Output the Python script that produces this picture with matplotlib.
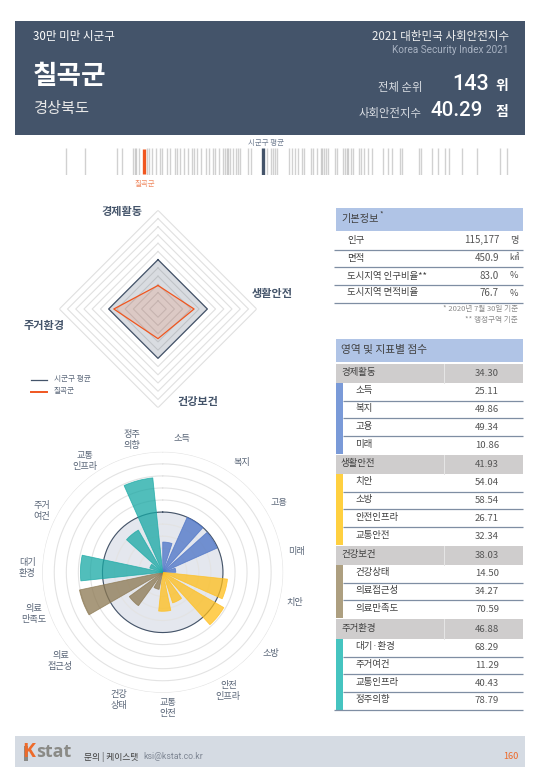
import numpy as np
import matplotlib
matplotlib.use("Agg")
import matplotlib.pyplot as plt
from matplotlib.patches import Rectangle

plt.rcParams['font.family'] = ['Noto Sans CJK KR', 'DejaVu Sans']

# ---------- data ----------
district = "칠곡군"
province = "경상북도"
group = "30만 미만 시군구"
rank = 143
index_score = 40.29
avg_score = 50.0

strip_scores = [33.91,35.48,38.07,38.50,39.35,39.54,39.64,39.86,40.51,40.70,40.92,41.22,41.55,41.76,
                42.15,42.39,42.80,42.94,43.23,43.56,43.88,44.16,44.37,44.57,44.89,45.30,45.60,45.87,
                46.04,46.36,46.74,46.88,47.01,47.15,47.28,47.50,47.75,47.96,48.10,48.78,48.97,50.28,
                50.60,50.77,50.95,51.14,52.12,52.32,52.59,52.85,53.18,53.34,53.87,54.03,54.40,54.68,
                54.81,54.95,55.11,55.30,55.85,55.99,56.52,56.69,56.80,56.88,57.13,57.34,57.81,57.97,
                58.21,58.51,58.84,59.79,60.15,60.52,61.15,61.29,62.68,62.89,63.74,64.28,64.82,65.12,
                66.23,67.41,69.33,69.87]

domains = ["경제활동", "생활안전", "건강보건", "주거환경"]
domain_scores = [34.30, 41.93, 38.03, 46.88]
domain_avg = [50, 50, 50, 50]

indicator_scores = [25.11,49.86,49.34,10.86,54.04,58.54,26.71,32.34,14.50,34.27,70.59,68.29,11.29,40.43,78.79]
indicator_domain = [0,0,0,0,1,1,1,1,2,2,2,3,3,3,3]
rose_labels = ["소득","복지","고용","미래","치안","소방","안전\n인프라","교통\n안전","건강\n상태",
               "의료\n접근성","의료\n만족도","대기\n환경","주거\n여건","교통\n인프라","정주\n의향"]
rose_label_angles = [8,36,59,81,103,127,151,178,199,229,252,272,297,325,347]

info_labels = ["인구","면적","도시지역 인구비율**","도시지역 면적비율"]
info_values = ["115,177","450.9","83.0","76.7"]
info_units = ["명","㎢","%","%"]

# ---------- colours ----------
NAVY = "#44546a"
ORANGE = "#f0561f"
TXT = "#404040"
HEAD = "#b0c4e6"
GREY = "#cfcdcd"
LINE = "#7f8ea3"
strip_bar = ["#7a9ad8", "#ffd040", "#ad9f80", "#45c4c0"]
rose_col = ["#4a72c6", "#ffbe1a", "#8b7750", "#17a8a4"]

W, H = 540, 780
fig = plt.figure(figsize=(W/100, H/100), dpi=100, facecolor="white")
bg = fig.add_axes([0, 0, 1, 1])
bg.set_xlim(0, W); bg.set_ylim(H, 0); bg.axis("off")

def T(x, y, s, size=6.5, color=TXT, ha="left", weight="normal", va="center", **kw):
    return bg.text(x, y, s, fontsize=size, color=color, ha=ha, va=va, fontweight=weight, **kw)

def px_axes(x0, y0, x1, y1, **kw):
    return fig.add_axes([x0/W, 1-y1/H, (x1-x0)/W, (y1-y0)/H], **kw)

# ---------- header ----------
bg.add_patch(Rectangle((14.5, 21), 510.5, 114, fc=NAVY, ec="none"))
T(33, 36.5, group, 8.3, "white", weight="medium")
T(33, 77, district, 19.2, "white", weight="bold")
T(33, 108, province, 11, "#e8e8e8")
T(509, 36.5, "2021 대한민국 사회안전지수", 8.3, "#f0f0f0", ha="right")
T(509, 50, "Korea Security Index 2021", 7.2, "#a8b2c2", ha="right", family=["Roboto"])
T(422, 87, "전체 순위", 8.2, "#d8dce2", ha="right")
T(489, 84, f"{rank}", 15.5, "white", ha="right", weight="medium", family=["Roboto"])
T(508.5, 86, "위", 10, "white", ha="right", weight="bold")
T(422, 113, "사회안전지수", 8.2, "#d8dce2", ha="right")
T(483, 111, f"{index_score:.2f}", 14.8, "white", ha="right", weight="medium", family=["Roboto"])
T(508.5, 112, "점", 10, "white", ha="right", weight="bold")

# ---------- strip of all districts ----------
s0, s1 = 60.0, 515.0
slope = (263.3-144.3)/(avg_score-index_score)
st = px_axes(s0, 148, s1, 175)
st.set_xlim(avg_score+(s0-263.3)/slope, avg_score+(s1-263.3)/slope)
st.set_ylim(0, 1); st.axis("off")
st.vlines(strip_scores, 0, 1, color="#808080", alpha=0.36, lw=1.0)
st.vlines([avg_score], 0, 1, color=NAVY, lw=2.4)
st.vlines([index_score], 0.03, 0.97, color=ORANGE, lw=2.4)
T(265.5, 142.5, "시군구 평균", 5.4, "#6f7c90", ha="center")
T(145, 184, district, 5.4, "#f08a62", ha="center")

# ---------- radar ----------
cx, cy, R = 158.0, 309.0, 98.7
ra = px_axes(cx-R, cy-R, cx+R, cy+R, projection="polar")
ra.set_theta_zero_location("N"); ra.set_theta_direction(-1)
ra.set_ylim(20, 80); ra.axis("off")
th4 = np.deg2rad([0, 90, 180, 270, 360])
for v in range(25, 81, 5):
    ra.plot(th4, [v]*5, color="#e0e0e0", lw=0.8, zorder=1)
ra.fill(th4, domain_avg+domain_avg[:1], color=NAVY, alpha=0.2, lw=0, zorder=2)
ra.plot(th4, domain_avg+domain_avg[:1], color=NAVY, lw=0.9, zorder=3)
ra.fill(th4, domain_scores+domain_scores[:1], color=ORANGE, alpha=0.14, lw=0, zorder=4)
ra.plot(th4, domain_scores+domain_scores[:1], color=ORANGE, lw=0.9, zorder=5)
for lab, (x, y) in zip(domains, [(121.7, 211), (272.7, 294), (197.7, 402), (44, 326)]):
    T(x, y, lab, 8.0, NAVY, ha="center", weight="bold")
bg.plot([31, 47], [379.5, 379.5], color=NAVY, lw=0.9)
bg.plot([31, 47], [391.5, 391.5], color=ORANGE, lw=1.4)
T(54, 379.5, "시군구 평균", 5.5, "#5f6b7d")
T(54, 391.5, district, 5.5, "#5f6b7d")

# ---------- rose ----------
cx2, cy2, R2 = 162.7, 572.3, 120.5
ro = px_axes(cx2-R2, cy2-R2, cx2+R2, cy2+R2, projection="polar")
ro.set_theta_zero_location("N"); ro.set_theta_direction(-1)
ro.set_ylim(0, 100); ro.axis("off")
ro.patch.set_alpha(0)
t = np.linspace(0, 2*np.pi, 361)
ro.fill(t, np.full_like(t, avg_score), color="#e4e7ee", lw=0, zorder=1)
for v in range(10, 101, 10):
    ro.plot(t, np.full_like(t, v), color="#e3e3e3", lw=0.8, zorder=2)
ro.plot(t, np.full_like(t, avg_score), color=NAVY, lw=0.8, zorder=3)
starts = np.deg2rad(24.0*np.arange(len(indicator_scores)))
for a, v, d in zip(starts, indicator_scores, indicator_domain):
    ro.bar(a, v, width=np.deg2rad(18), align="edge", color=rose_col[d], alpha=0.75,
           edgecolor=rose_col[d], lw=0.6, zorder=4)
lab_ang = np.deg2rad(rose_label_angles)
for a, lab in zip(lab_ang, rose_labels):
    x = cx2 + 135.5*np.sin(a)
    y = cy2 - 135.5*np.cos(a)
    T(x, y, lab, 6.6, "#5a6678", ha="center", linespacing=1.3)

# ---------- info table ----------
bg.add_patch(Rectangle((336, 208), 187, 23, fc=HEAD, ec="none"))
T(341, 219, "기본정보", 7.3, TXT)
T(379, 215, "*", 5.5, TXT)
info_y = [240, 258, 276, 293]
info_line = [249.5, 267, 284.5, 302.5]
for lab, val, unit, y, ly in zip(info_labels, info_values, info_units, info_y, info_line):
    T(347, y, lab, 6.8, TXT)
    T(499, y, val, 7.0, "#555555", ha="right")
    T(514, y, unit, 6.6, "#555555", ha="center")
    bg.plot([334, 523], [ly, ly], color=LINE, lw=0.9, solid_capstyle="butt")
T(518, 309, "* 2020년 7월 30일 기준", 5.5, "#8c8c8c", ha="right")
T(518, 320, "** 행정구역 기준", 5.5, "#8c8c8c", ha="right")

# ---------- score table ----------
bg.add_patch(Rectangle((336, 339), 187, 23, fc=HEAD, ec="none"))
T(341, 350, "영역 및 지표별 점수", 7.7, TXT)
grey_rows = [(363.5, 383), (454.7, 474), (545.7, 565), (619, 639)]
row_lines = [[400.7, 418.3, 436, 454], [491.7, 509.3, 527.3, 545],
             [582.7, 600.3, 618], [656.7, 674, 692, 709.7]]
names = ["소득","복지","고용","미래","치안","소방","안전인프라","교통안전",
         "건강상태","의료접근성","의료만족도","대기·환경","주거여건","교통인프라","정주의향"]
k = 0
for d, (dom, score) in enumerate(zip(domains, domain_scores)):
    y0, y1 = grey_rows[d]
    bg.add_patch(Rectangle((336, y0), 187, y1-y0, fc=GREY, ec="none"))
    bg.plot([444, 444], [y0, y1], color="#e6e6e6", lw=0.7)
    T(341, (y0+y1)/2-1, dom, 6.8, TXT)
    T(487, (y0+y1)/2, f"{score:.2f}", 6.9, "#555555", ha="center")
    top = y1
    for n, ly in enumerate(row_lines[d]):
        bg.add_patch(Rectangle((335.5, top), 7.5, ly-top, fc=strip_bar[d], ec="none"))
        if n < len(row_lines[d]) - 1 or d == 3:
            bg.plot([343 if d < 3 or n < 3 else 334, 523], [ly, ly],
                    color=LINE, lw=0.9, solid_capstyle="butt", zorder=3)
        T(355, (top+ly)/2-1, names[k], 6.8, TXT)
        T(487, (top+ly)/2, f"{indicator_scores[k]:.2f}", 6.9, "#555555", ha="center")
        top = ly
        k += 1

# ---------- footer ----------
bg.add_patch(Rectangle((15, 736), 510, 31, fc="#d5dbe3", ec="none"))
T(22.5, 752, "K", 14, "#ee6a2a", weight="bold", family=["Open Sans"])
bg.add_patch(Rectangle((24, 745.5), 3.6, 15, fc="#8a8a86", ec="none"))
T(36, 752, "stat", 13, "#8a8a86", weight="bold", family=["Open Sans"])
T(84.5, 756.5, "문의 | 케이스탯", 6.3, "#404040", weight="medium")
T(143, 756.5, "ksi@kstat.co.kr", 6.3, "#7f8794", family=["Roboto"])
T(518, 756.5, "160", 6.6, "#ee6a2a", ha="right")

fig.savefig("out.png", dpi=100, facecolor="white")
